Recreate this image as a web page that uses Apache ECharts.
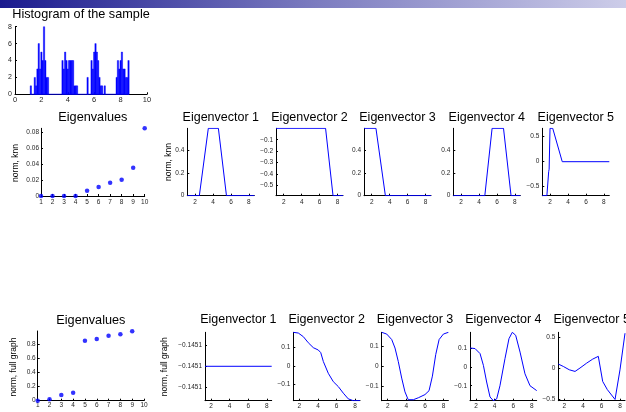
<!DOCTYPE html>
<html><head><meta charset="utf-8">
<script src="https://cdn.jsdelivr.net/npm/echarts@6/dist/echarts.min.js"></script>
<style>html,body{margin:0;padding:0;background:#fff}#c{width:626px;height:412px}</style>
</head><body><div id="c"></div>
<script>
// ---------- data ----------
const binWidth = 0.1;
const histCenters = [1.2,1.5,1.6,1.7,1.8,1.9,2.0,2.1,2.2,2.3,2.4,2.5,
  3.6,3.7,3.8,3.9,4.0,4.1,4.2,4.3,4.4,4.5,4.6,4.7,
  5.5,5.8,5.9,6.0,6.1,6.2,6.3,6.4,6.5,6.6,6.8,
  7.7,7.8,7.9,8.0,8.1,8.2,8.3,8.4,8.5,8.6];
const histCounts = [1,2,1,3,6,3,5,4,8,4,2,2,
  4,3,5,4,3,4,4,4,4,1,1,1,
  2,4,3,5,6,5,4,2,1,1,1,
  2,4,3,4,5,3,3,2,2,4];
const histXTicks = [0,2,4,6,8,10];
const histYTicks = [0,2,4,6,8];

const eigIndex = [1,2,3,4,5,6,7,8,9,10];
const eigKnn = [0,0,0,0,0.0066,0.0112,0.0166,0.0203,0.0352,0.0847];
const eigKnnTicks = [0,0.02,0.04,0.06,0.08];
const eigFull = [0,0.02,0.081,0.114,0.853,0.877,0.924,0.943,0.986];
const eigFullTicks = [0,0.2,0.4,0.6,0.8];

const evXTicks = [2,4,6,8];
// knn eigenvectors: [x, value]
const evKnn1 = [[1.14,0],[2.48,0],[3.48,0.595],[4.6,0.595],[5.5,0],[8.6,0]];
const evKnn2 = [[1.14,0],[6.66,0],[7.49,-0.59],[8.6,-0.59]];
const evKnn3 = [[1.14,0.595],[2.47,0.595],[3.52,0],[8.6,0]];
const evKnn4 = [[1.14,0],[4.65,0],[5.46,0.595],[6.73,0.595],[7.57,0],[8.6,0]];
const evKnn5 = [[1.14,-0.68],[1.65,-0.68],[1.85,-0.2],[1.9,-0.15],[2.0,0.668],[2.3,0.668],[3.36,0],[8.6,0]];
// full graph eigenvectors
const evFull1 = [[1.35,-0.1451],[8.52,-0.1451]];
const evFull2 = [[1.35,0.184],[1.89,0.18],[2.43,0.16],[2.96,0.127],[3.5,0.1],[4.04,0.087],[4.3,0.073],[4.58,0.024],[5.11,-0.04],[5.65,-0.086],[6.19,-0.113],[6.73,-0.149],[7.26,-0.18],[7.8,-0.19],[8.52,-0.19]];
const evFull3 = [[1.35,0.173],[1.89,0.164],[2.43,0.136],[2.78,0.093],[3.13,0.025],[3.5,-0.06],[3.85,-0.13],[4.2,-0.17],[4.75,-0.17],[5.29,-0.16],[6.0,-0.144],[6.44,-0.124],[6.8,-0.05],[7.16,0.06],[7.52,0.136],[7.98,0.164],[8.52,0.173]];
const evFull4 = [[1.35,0.102],[1.89,0.099],[2.43,0.072],[2.79,0.009],[3.14,-0.08],[3.5,-0.16],[3.86,-0.18],[4.22,-0.17],[4.57,-0.1],[5.11,0.045],[5.54,0.152],[5.9,0.186],[6.26,0.17],[6.73,0.08],[7.26,-0.036],[7.8,-0.1],[8.52,-0.126]];
const evFull5 = [[1.35,0.065],[1.89,0.026],[2.53,-0.028],[3.15,-0.055],[3.68,0],[4.4,0.08],[5.05,0.145],[5.65,0.19],[6.12,-0.217],[6.62,-0.35],[7.45,-0.51],[7.98,-0.03],[8.52,0.565]];

const evKnnYTicks = [[0,0.2,0.4],[-0.5,-0.4,-0.3,-0.2,-0.1],[0,0.2,0.4],[0,0.2,0.4],[-0.5,0,0.5]];
const evFullYTicks = [[-0.14511,-0.1451,-0.14509],[-0.1,0,0.1],[-0.1,0,0.1],[-0.1,0,0.1],[-0.5,0,0.5]];

// ---------- layout ----------
const FONT = '"Liberation Sans", Arial, Helvetica, sans-serif';
const BLUE = '#0000ff';
const TICKC = '#262626';
const grids = [], xAxes = [], yAxes = [], series = [], graphics = [];

function fmt(v, dec) {
  const s = dec != null ? v.toFixed(dec) : String(v);
  return s.replace('-', '\u2212');
}
function panel(o) {
  const i = grids.length;
  grids.push({left:o.l, top:o.t, width:o.r-o.l, height:o.b-o.t, containLabel:false, outerBoundsMode:'none', show:false});
  xAxes.push({gridIndex:i, type:'value', min:o.xmin, max:o.xmax,
    axisLine:{show:true, onZero:false, lineStyle:{color:'#000', width:1}},
    axisTick:{show:true, inside:true, length:2, customValues:o.xt, lineStyle:{color:'#000'}},
    axisLabel:{customValues:o.xt, fontSize:o.xfs||6.5, fontFamily:FONT, color:TICKC, margin:o.xm!=null?o.xm:3, formatter:v=>fmt(v)},
    splitLine:{show:false}});
  yAxes.push({gridIndex:i, type:'value', min:o.ymin, max:o.ymax,
    axisLine:{show:true, onZero:false, lineStyle:{color:'#000', width:1}},
    axisTick:{show:true, inside:true, length:2, customValues:o.yt, lineStyle:{color:'#000'}},
    axisLabel:{customValues:o.yt, fontSize:o.yfs||6.5, fontFamily:FONT, color:TICKC, margin:o.ym!=null?o.ym:3, formatter:v=>fmt(v,o.ydec)},
    splitLine:{show:false}});
  if (o.title) graphics.push({type:'text', x:(o.l+o.r)/2, y:o.t-o.tg, style:{text:o.title, fontSize:o.tfs||12.5, fontFamily:FONT, fill:'#000', textAlign:'center', textVerticalAlign:'middle'}});
  return i;
}
function ylabel(text, x, y) {
  graphics.push({type:'text', x:x, y:y, rotation:Math.PI/2, style:{text:text, fontSize:8.5, fontFamily:FONT, fill:'#000', textAlign:'center', textVerticalAlign:'middle'}});
}
function line(i, data) {
  series.push({type:'line', xAxisIndex:i, yAxisIndex:i, data:data, showSymbol:false, symbol:'none',
    lineStyle:{color:BLUE, width:1}, animation:false, clip:true});
}
function scatter(i, xs, ys) {
  series.push({type:'scatter', xAxisIndex:i, yAxisIndex:i, data:ys.map((v,k)=>[xs[k],v]),
    symbol:'circle', symbolSize:4.5, itemStyle:{color:BLUE}, animation:false, clip:false});
}

// gradient header bar
graphics.push({type:'rect', left:0, top:0, shape:{width:626, height:8}, z:-1,
  style:{fill:new echarts.graphic.LinearGradient(0,0,1,0,[{offset:0,color:'#1a1a8e'},{offset:0.5,color:'#7b7bbf'},{offset:1,color:'#cdcde9'}])}});

// histogram
const h = panel({l:15, t:26.7, r:147, b:94.3, xmin:0, xmax:10, xt:histXTicks, ymin:0, ymax:8, yt:histYTicks,
  xfs:7.5, yfs:7, xm:1.5, ym:3, title:'Histogram of the sample', tg:12, tfs:12.7});
series.push({type:'custom', xAxisIndex:h, yAxisIndex:h, data:histCenters.map((c,k)=>[c,histCounts[k]]), animation:false,
  renderItem:(params, api) => {
    const x = api.value(0), c = api.value(1);
    const p0 = api.coord([x - binWidth/2, c]);
    const p1 = api.coord([x + binWidth/2, 0]);
    return {type:'rect', shape:{x:p0[0], y:p0[1], width:p1[0]-p0[0], height:p1[1]-p0[1]},
      style:{fill:BLUE, stroke:BLUE, lineWidth:0.4}};
  }});
line(h, [[histCenters[0]-binWidth/2, 0],[histCenters[histCenters.length-1]+binWidth/2, 0]]);

// top row: knn
const e1 = panel({l:41, t:128.3, r:144.7, b:196, xmin:1, xmax:10, xt:eigIndex, ymin:0, ymax:0.0847, yt:eigKnnTicks,
  xm:3, ym:2, title:'Eigenvalues', tg:10.5, tfs:12.7});
scatter(e1, eigIndex, eigKnn);
ylabel('norm, knn', 15.3, 163);
const topL = [187.3, 276, 364, 453.3, 542.3];
const evKnn = [evKnn1, evKnn2, evKnn3, evKnn4, evKnn5];
const knnY = [[0,0.595],[-0.59,0],[0,0.595],[0,0.595],[-0.68,0.668]];
topL.forEach((l,k) => {
  const i = panel({l:l, t:128.3, r:l+67, b:195.7, xmin:1.14, xmax:8.6, xt:evXTicks, ymin:knnY[k][0], ymax:knnY[k][1], yt:evKnnYTicks[k],
    xm:3.5, ym:3, title:'Eigenvector '+(k+1), tg:11});
  line(i, evKnn[k]);
});
ylabel('norm, knn', 169, 162);

// bottom row: full graph
const e2 = panel({l:37.7, t:331, r:144, b:400.7, xmin:1, xmax:10, xt:eigIndex, ymin:0, ymax:0.99, yt:eigFullTicks,
  xm:1.5, ym:2, title:'Eigenvalues', tg:11, tfs:12.7});
scatter(e2, eigIndex.slice(0, eigFull.length), eigFull);
ylabel('norm, full graph', 13.3, 367);
const botL = [205, 293.3, 381.7, 470, 558.3];
const evFull = [evFull1, evFull2, evFull3, evFull4, evFull5];
const fullY = [[-0.1451161,-0.1450841],[-0.19,0.184],[-0.175,0.173],[-0.18,0.186],[-0.53,0.58]];
botL.forEach((l,k) => {
  const i = panel({l:l, t:332.3, r:l+66.7, b:400.7, xmin:1.35, xmax:8.52, xt:evXTicks, ymin:fullY[k][0], ymax:fullY[k][1], yt:evFullYTicks[k],
    ydec: k===0 ? 4 : null, xm:2.5, ym:3, title:'Eigenvector '+(k+1), tg:12.3});
  line(i, evFull[k]);
});
ylabel('norm, full graph', 165, 366.7);

const chart = echarts.init(document.getElementById('c'), null, {renderer:'canvas'});
chart.setOption({backgroundColor:'#fff', animation:false, grid:grids, xAxis:xAxes, yAxis:yAxes, series:series, graphic:graphics});
</script></body></html>
